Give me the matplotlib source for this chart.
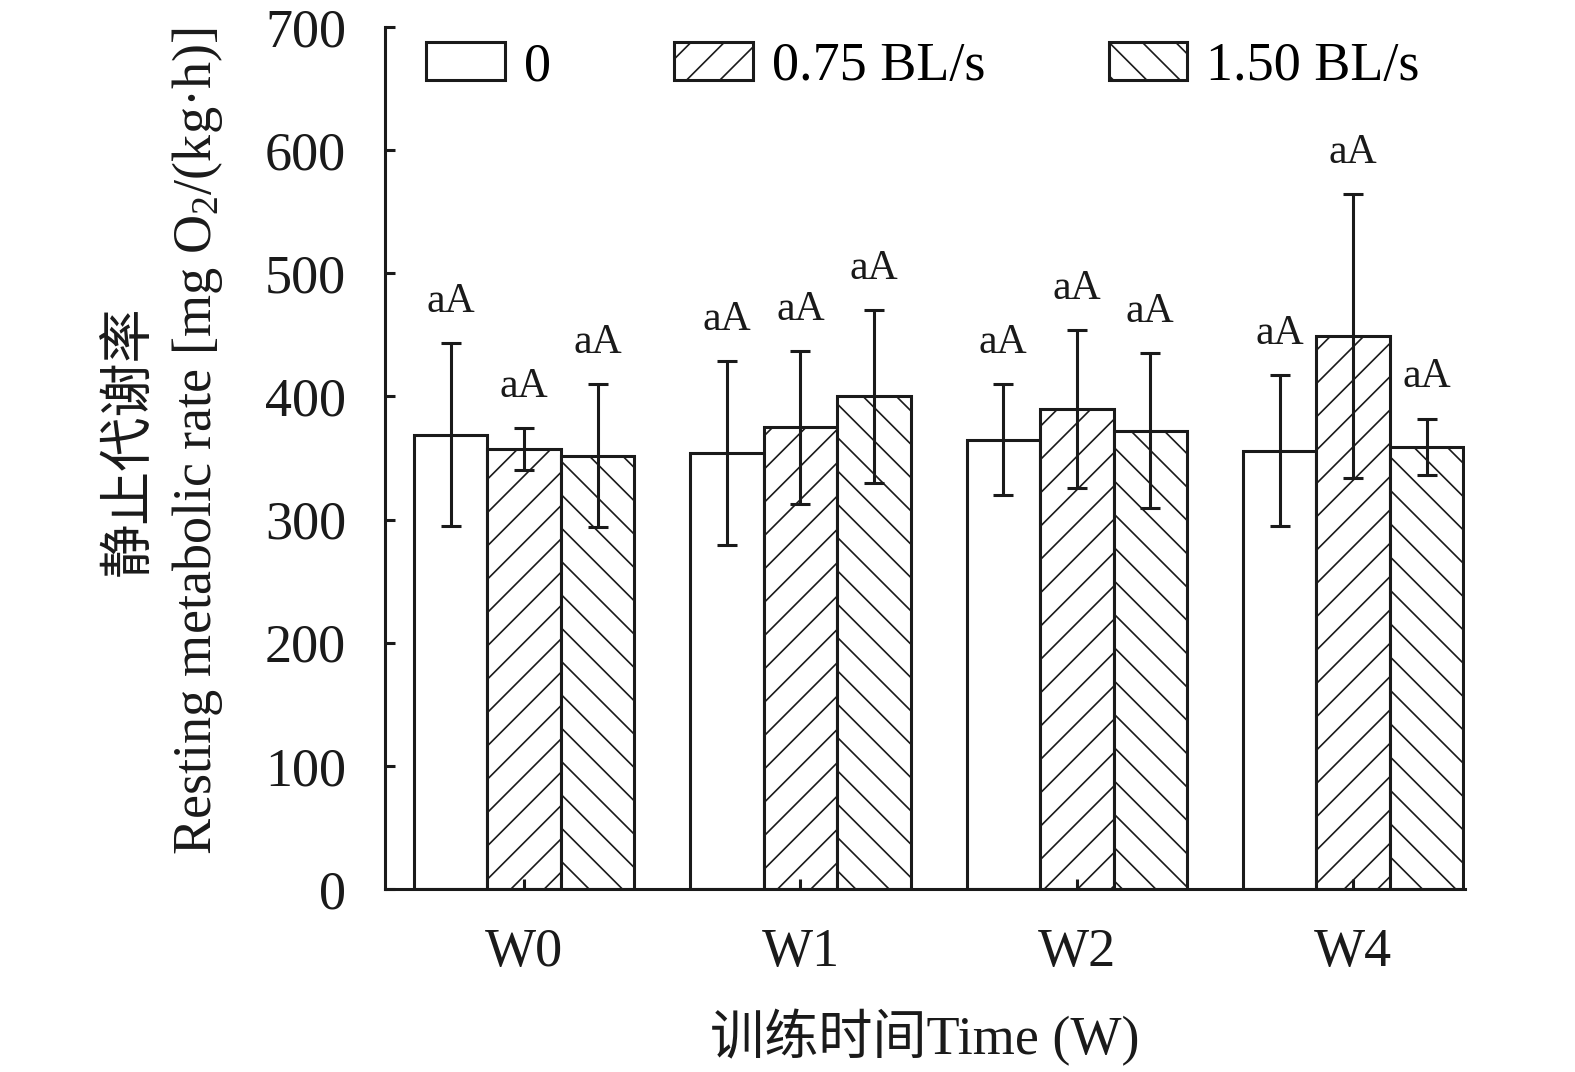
import matplotlib
matplotlib.use("Agg")
import matplotlib.pyplot as plt
import numpy as np

plt.rcParams['font.family'] = ['Liberation Serif', 'Noto Sans CJK SC']
plt.rcParams['mathtext.fontset'] = 'custom'
plt.rcParams['mathtext.rm'] = 'Liberation Serif'
plt.rcParams['mathtext.it'] = 'Liberation Serif:italic'
plt.rcParams['hatch.linewidth'] = 0.6

weeks = ['W0', 'W1', 'W2', 'W4']
groups = ['0', '0.75 BL/s', '1.50 BL/s']
means = {
    '0':         [369, 354, 365, 356],
    '0.75 BL/s': [357, 375, 390, 449],
    '1.50 BL/s': [352, 400, 372, 359],
}
errs = {
    '0':         [74, 75, 45, 61],
    '0.75 BL/s': [17, 62, 64, 115],
    '1.50 BL/s': [58, 70, 63, 23],
}
letters = {
    '0':         ['aA', 'aA', 'aA', 'aA'],
    '0.75 BL/s': ['aA', 'aA', 'aA', 'aA'],
    '1.50 BL/s': ['aA', 'aA', 'aA', 'aA'],
}
hatches = {'0': '', '0.75 BL/s': '//', '1.50 BL/s': '\\\\'}

W, H, DPI = 1575, 1072, 200
fig = plt.figure(figsize=(W / DPI, H / DPI), dpi=DPI)
ax = fig.add_axes([385 / W, 1 - 889 / H, (1465 - 385) / W, (889 - 27) / H])
ax.set_axisbelow(False)

x = np.arange(len(weeks))
bw = 0.266
lw = 1.1
for i, g in enumerate(groups):
    xs = x + (i - 1) * bw
    ax.bar(xs, means[g], width=bw, color='white', edgecolor='#1a1a1a',
           linewidth=lw, hatch=hatches[g], label=g, zorder=2)
    ax.errorbar(xs, means[g], yerr=errs[g], fmt='none', ecolor='#1a1a1a',
                elinewidth=lw, capsize=3.6, capthick=lw, zorder=3)
    for xi, m, e, t in zip(xs, means[g], errs[g], letters[g]):
        ax.text(xi, m + e + 18, t, ha='center', va='bottom', fontsize=15,
                color='#1a1a1a')

ax.set_xlim(-0.5036, 3.405)
ax.set_ylim(0, 700)
ax.set_yticks(np.arange(0, 701, 100))
ax.set_xticks(x)
ax.set_xticklabels(weeks)
ax.spines['top'].set_visible(False)
ax.spines['right'].set_visible(False)
for s in ['left', 'bottom']:
    ax.spines[s].set_linewidth(lw)
    ax.spines[s].set_color('#1a1a1a')
ax.tick_params(axis='both', direction='in', length=3.6, width=lw,
               labelsize=19.5, colors='#1a1a1a', pad=14)

ax.set_xlabel('训练时间Time (W)', fontsize=19.5, labelpad=11, color='#1a1a1a')

fig.text(130 / W, 1 - 441 / H, '静止代谢率', rotation=90, ha='center',
         va='center', fontsize=19.5, color='#1a1a1a')
fig.text(198 / W, 1 - 441 / H, r'Resting metabolic rate [mg O$_2$/(kg·h)]',
         rotation=90, ha='center', va='center', fontsize=19.5, color='#1a1a1a')

leg = fig.legend(loc='center left', bbox_to_anchor=(426 / W, 1 - 67 / H),
                 ncol=3, frameon=False, fontsize=19.5, handlelength=1.45,
                 handleheight=0.7, handletextpad=0.35, columnspacing=2.28,
                 borderpad=0, borderaxespad=0)

fig.savefig('out.png', dpi=DPI)
